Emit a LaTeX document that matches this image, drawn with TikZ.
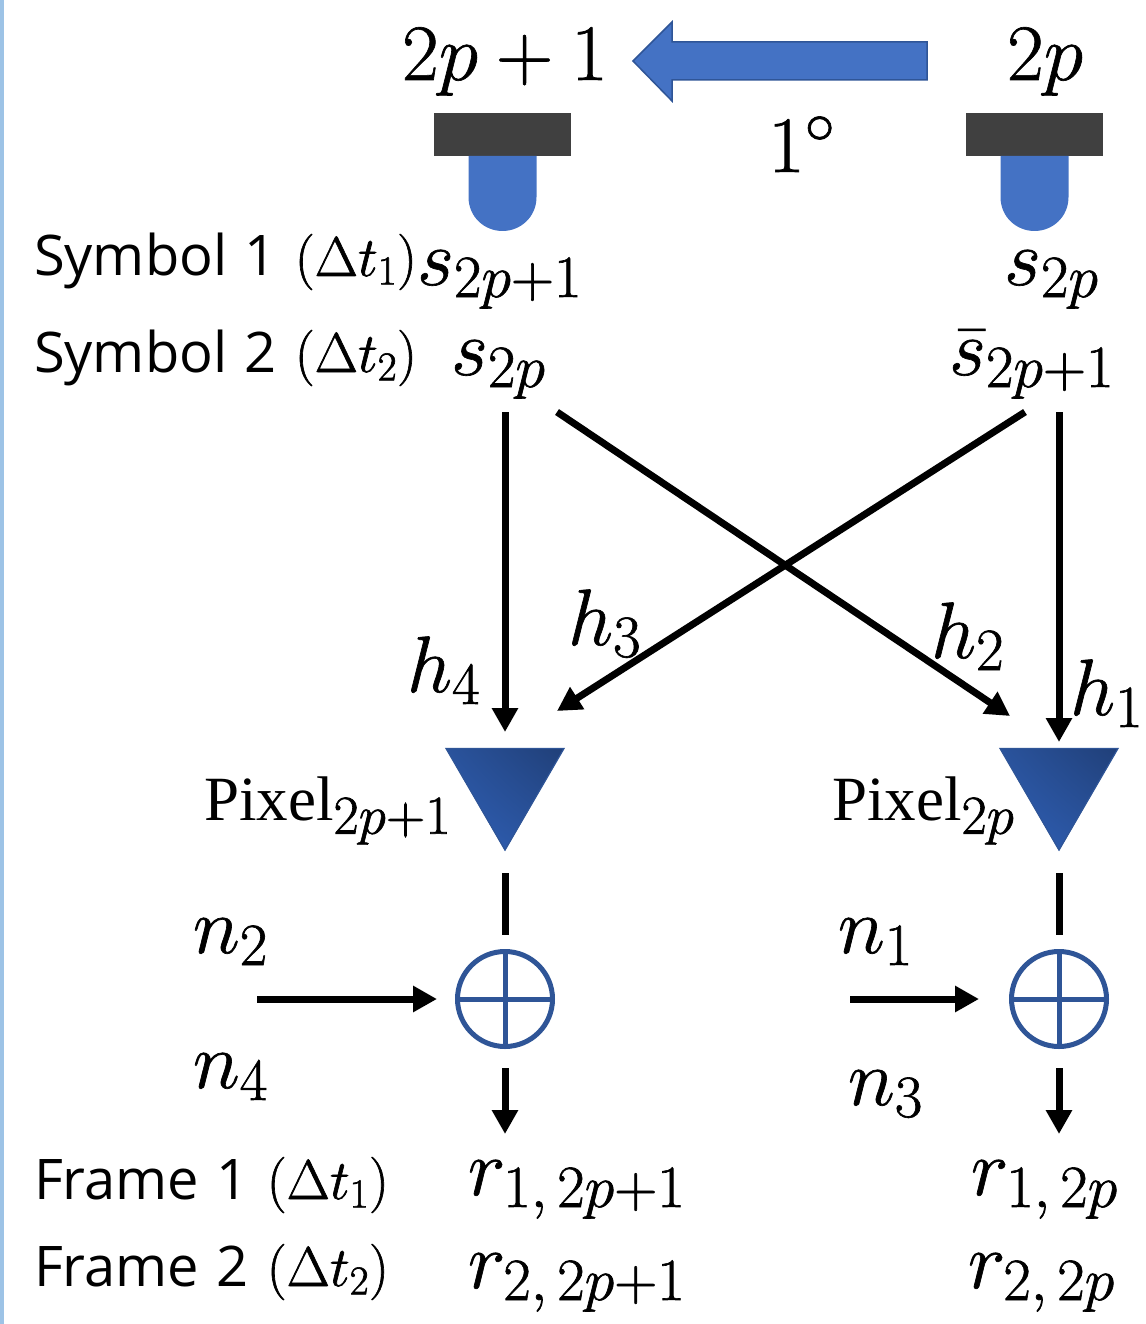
\RequirePackage{fix-cm}
\documentclass[tikz,border=0pt]{standalone}
\usepackage{fontspec}
\setmainfont{Open Sans}
\usetikzlibrary{arrows.meta,shadings}
\definecolor{ledblue}{HTML}{4472C4}
\definecolor{edgeblue}{HTML}{2F5597}
\definecolor{barcol}{HTML}{404040}
\definecolor{stripcol}{HTML}{9DC3E6}
\definecolor{tridark}{HTML}{203F78}
\definecolor{trimid}{HTML}{2A539C}
\definecolor{trilight}{HTML}{2F60B8}
\DeclareMathSizes{80}{80}{60}{45}
\DeclareMathSizes{63}{63}{55}{40}
\DeclareMathSizes{56}{56}{41}{30}
\newcommand{\szA}{\fontsize{80}{88}\selectfont}
\newcommand{\szT}{\fontsize{56}{64}\selectfont}
\newcommand{\szM}{\fontsize{56}{62}\selectfont}
\newcommand{\szS}{\fontsize{63}{70}\selectfont}
\newcommand{\hv}[1]{\special{pdf:code 2 Tr 0.65 w}#1\special{pdf:code 0 Tr}}
\newcommand{\timelab}[3]{{\szT #1\hspace{3pt} #2}\hspace{18pt}{\szM\hv{$(\Delta t_{#3})$}}}
\tikzset{
  lab/.style={anchor=base west,inner sep=0pt,outer sep=0pt,text=black},
  wire/.style={draw=black,line width=7pt},
  arr/.style={wire,-{Triangle[length=24pt,width=25pt]}},
  sumc/.style={circle,draw=edgeblue,line width=5pt,minimum size=95pt,inner sep=0pt},
  bar/.style={fill=barcol,draw=none},
  led/.style={fill=ledblue,draw=none}
}
\newcommand{\sensorshape}[1]{%
  \fill[bar] (#1-68.5,113) rectangle (#1+68.5,156);
  \fill[led] (#1-34,156) -- (#1+34,156) -- (#1+34,197)
     .. controls (#1+34,217) and (#1+18,231) .. (#1,231)
     .. controls (#1-18,231) and (#1-34,217) .. (#1-34,197) -- cycle;
}
\newcommand{\pixeltri}[1]{%
  \begin{scope}
    \clip (#1-59,748.5) -- (#1+59,748.5) -- (#1,851) -- cycle;
    \shade[lower left=trilight,upper right=tridark,lower right=trimid,upper left=trimid]
      (#1-60,852) rectangle (#1+60,748);
  \end{scope}
  \draw[edgeblue,line width=1.2pt,line join=miter] (#1-59,748.5) -- (#1+59,748.5) -- (#1,850) -- cycle;
}
\begin{document}
\begin{tikzpicture}[x=1pt,y=-1pt]
\useasboundingbox (0,0) rectangle (1145,1324);
\fill[white] (0,0) rectangle (1145,1324);
\fill[stripcol] (0,0) rectangle (4,1324);

% top labels
\node[lab,font=\szA] (tleft) at (402,80) {\hv{$2p+1$}};
\node[lab,font=\szA] (tright) at (1007,80) {\hv{$2p$}};
\node[lab,font=\szA] (deg) at (768,172) {\hv{$1^\circ$}};
\filldraw[fill=ledblue,draw=edgeblue,line width=1.5pt]
  (633,61) -- (672,22) -- (672,42) -- (927,42) -- (927,80) -- (672,80) -- (672,101) -- cycle;

\sensorshape{502.5}
\sensorshape{1034.5}

% symbol rows
\node[lab] (sym1) at (34,276) {\timelab{Symbol}{1}{1}};
\node[lab] (sym2) at (34,372) {\timelab{Symbol}{2}{2}};
\node[lab,font=\szA] (s1l) at (417,285) {\hv{$s_{2p+1}$}};
\node[lab,font=\szA] (s1r) at (1004,285) {\hv{$s_{2p}$}};
\node[lab,font=\szA] (s2l) at (451,375) {\hv{$s_{2p}$}};
\node[lab,font=\szA] (s2r) at (949,375) {\hv{$\bar{s}_{2p+1}$}};

% connectors
\coordinate (a1) at (505,412); \coordinate (a1e) at (505,732);
\coordinate (a2) at (557,412); \coordinate (a2e) at (1010,716);
\coordinate (a3) at (1025,412); \coordinate (a3e) at (557,711);
\coordinate (a4) at (1059,412); \coordinate (a4e) at (1059,742);
\draw[arr] (a1) -- (a1e);
\draw[arr] (a2) -- (a2e);
\draw[arr] (a3) -- (a3e);
\draw[arr] (a4) -- (a4e);

\node[lab,font=\szA] (h3) at (568,645) {\hv{$h_3$}};
\node[lab,font=\szA] (h4) at (407,692) {\hv{$h_4$}};
\node[lab,font=\szA] (h2) at (931,658) {\hv{$h_2$}};
\node[lab,font=\szA] (h1) at (1070,715) {\hv{$h_1$}};

% pixels
\pixeltri{505}
\pixeltri{1059}
\node[lab,font=\szS] (pxl) at (204,820) {\fontspec{Liberation Serif}Pixel\hv{$_{2p+1}$}};
\node[lab,font=\szS] (pxr) at (832,820) {\fontspec{Liberation Serif}Pixel\hv{$_{2p}$}};

% summing junctions
\node[sumc] (sl) at (505,999) {};
\node[sumc] (sr) at (1059,999) {};
\draw[edgeblue,line width=5pt] (sl.north) -- (sl.south) (sl.west) -- (sl.east);
\draw[edgeblue,line width=5pt] (sr.north) -- (sr.south) (sr.west) -- (sr.east);

\coordinate (w1) at (505,873); \coordinate (w1e) at (505,935);
\coordinate (w2) at (1059,873); \coordinate (w2e) at (1059,935);
\draw[wire] (w1) -- (w1e);
\draw[wire] (w2) -- (w2e);

\coordinate (nl) at (257,999); \coordinate (nle) at (437,999);
\coordinate (nr) at (850,999); \coordinate (nre) at (979,999);
\draw[arr] (nl) -- (nle);
\draw[arr] (nr) -- (nre);

\coordinate (ol) at (505,1068); \coordinate (ole) at (505,1134);
\coordinate (or) at (1059,1068); \coordinate (ore) at (1059,1134);
\draw[arr] (ol) -- (ole);
\draw[arr] (or) -- (ore);

\node[lab,font=\szA] (n2) at (193,953) {\hv{$n_2$}};
\node[lab,font=\szA] (n4) at (193,1088) {\hv{$n_4$}};
\node[lab,font=\szA] (n1) at (838,953) {\hv{$n_1$}};
\node[lab,font=\szA] (n3) at (848,1105) {\hv{$n_3$}};

% frames
\node[lab] (fr1) at (34,1199) {\timelab{Frame}{1}{1}};
\node[lab] (fr2) at (34,1286) {\timelab{Frame}{2}{2}};
\node[lab,font=\szA] (r1l) at (468,1195) {\hv{$r_{1,\,2p+1}$}};
\node[lab,font=\szA] (r2l) at (468,1288) {\hv{$r_{2,\,2p+1}$}};
\node[lab,font=\szA] (r1r) at (971,1195) {\hv{$r_{1,\,2p}$}};
\node[lab,font=\szA] (r2r) at (968,1288) {\hv{$r_{2,\,2p}$}};
\end{tikzpicture}
\end{document}
